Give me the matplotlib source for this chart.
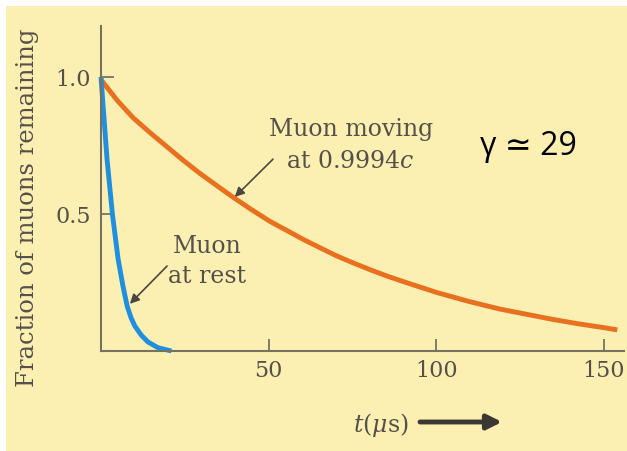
import matplotlib.pyplot as plt
from matplotlib.patches import Rectangle

# values
t_moving = [0, 4.8, 9.5, 14.6, 19.7, 24.4, 29.5, 34.6, 39.3, 45, 50.4, 55.4, 60.2, 65.3,
            70.3, 75.1, 80.2, 85.2, 90, 100, 110, 119, 134, 142, 150.6, 154]
f_moving = [0.99, 0.915, 0.852, 0.797, 0.745, 0.697, 0.648, 0.603, 0.562, 0.515, 0.473, 0.44, 0.408, 0.377,
            0.347, 0.322, 0.297, 0.274, 0.254, 0.214, 0.18, 0.153, 0.117, 0.10, 0.084, 0.077]
t_rest = [0, 0.9, 1.8, 3.4, 5.1, 6.5, 7.8, 9, 10.1, 12, 14, 17, 21]
f_rest = [1.0, 0.85, 0.70, 0.50, 0.336, 0.24, 0.164, 0.12, 0.091, 0.058, 0.033, 0.012, 0.0]
x_ticks = [50, 100, 150]
y_ticks = [0.5, 1.0]
y_tick_labels = ['0.5', '1.0']

plt.rcParams['mathtext.fontset'] = 'dejavuserif'
ink = '#55514a'
cream = '#fcefb2'

fig = plt.figure(figsize=(6.27, 4.52), dpi=100, facecolor='white')
fig.patches.append(Rectangle((6 / 627, 0), 1, 1 - 7 / 452, transform=fig.transFigure,
                             facecolor=cream, edgecolor='none', zorder=-10))
ax = fig.add_axes([101 / 627, 1 - 352 / 452, 523 / 627, 325 / 452])
ax.set_facecolor('none')

ax.plot(t_moving, f_moving, color='#e8701e', lw=3.5, solid_capstyle='butt',
        solid_joinstyle='round', clip_on=False)
ax.plot(t_rest, f_rest, color='#1f8fe0', lw=3.5, solid_capstyle='butt',
        solid_joinstyle='round', clip_on=False)

ax.set_xlim(0, 156)
ax.set_ylim(0, 1.186)
for s in ['top', 'right']:
    ax.spines[s].set_visible(False)
for s in ['left', 'bottom']:
    ax.spines[s].set_color('#77725f')
    ax.spines[s].set_linewidth(1.5)

ax.set_xticks(x_ticks)
ax.set_xticklabels([str(v) for v in x_ticks])
ax.set_yticks(y_ticks)
ax.set_yticklabels(y_tick_labels)
ax.tick_params(direction='in', length=9, width=1.3, color='#77725f', labelcolor=ink,
               labelsize=16)
ax.tick_params(axis='x', pad=6)
ax.tick_params(axis='y', pad=7)
for lab in ax.get_xticklabels() + ax.get_yticklabels():
    lab.set_family('DejaVu Serif')

txt = dict(family='DejaVu Serif', fontsize=17, color=ink, ha='center', va='baseline')
ax.text(74.5, 0.79, 'Muon moving', **txt)
ax.text(74.5, 0.673, 'at 0.9994$c$', **txt)
ax.text(31.7, 0.361, 'Muon', **txt)
ax.text(31.7, 0.252, 'at rest', **txt)

arr = dict(arrowstyle='-|>', color='#4a4640', lw=1.2, mutation_scale=14, shrinkA=0, shrinkB=0)
ax.annotate('', xy=(39.9, 0.562), xytext=(51.3, 0.70), arrowprops=arr)
ax.annotate('', xy=(8.6, 0.172), xytext=(19.7, 0.31), arrowprops=arr)

ax.text(113, 0.719, 'γ ≃ 29', family=['Open Sans', 'DejaVu Sans'], fontsize=23,
        color='black', ha='left', va='baseline')

fig.text(28 / 627, 1 - 208 / 452, 'Fraction of muons remaining', rotation=90,
         family='DejaVu Serif', fontsize=17.5, color=ink, ha='center', va='center')
fig.text(381 / 627, 1 - 425 / 452, r'$t(\mu\mathrm{s})$', fontsize=17, color=ink,
         ha='center', va='center')
ax.annotate('', xy=(502 / 627, 1 - 423 / 452), xytext=(420 / 627, 1 - 423 / 452),
            xycoords='figure fraction', textcoords='figure fraction',
            arrowprops=dict(arrowstyle='-|>', color='#3b3833', lw=3.5,
                            mutation_scale=22, shrinkA=0, shrinkB=0))

fig.savefig('out.png', dpi=100, facecolor='white')
